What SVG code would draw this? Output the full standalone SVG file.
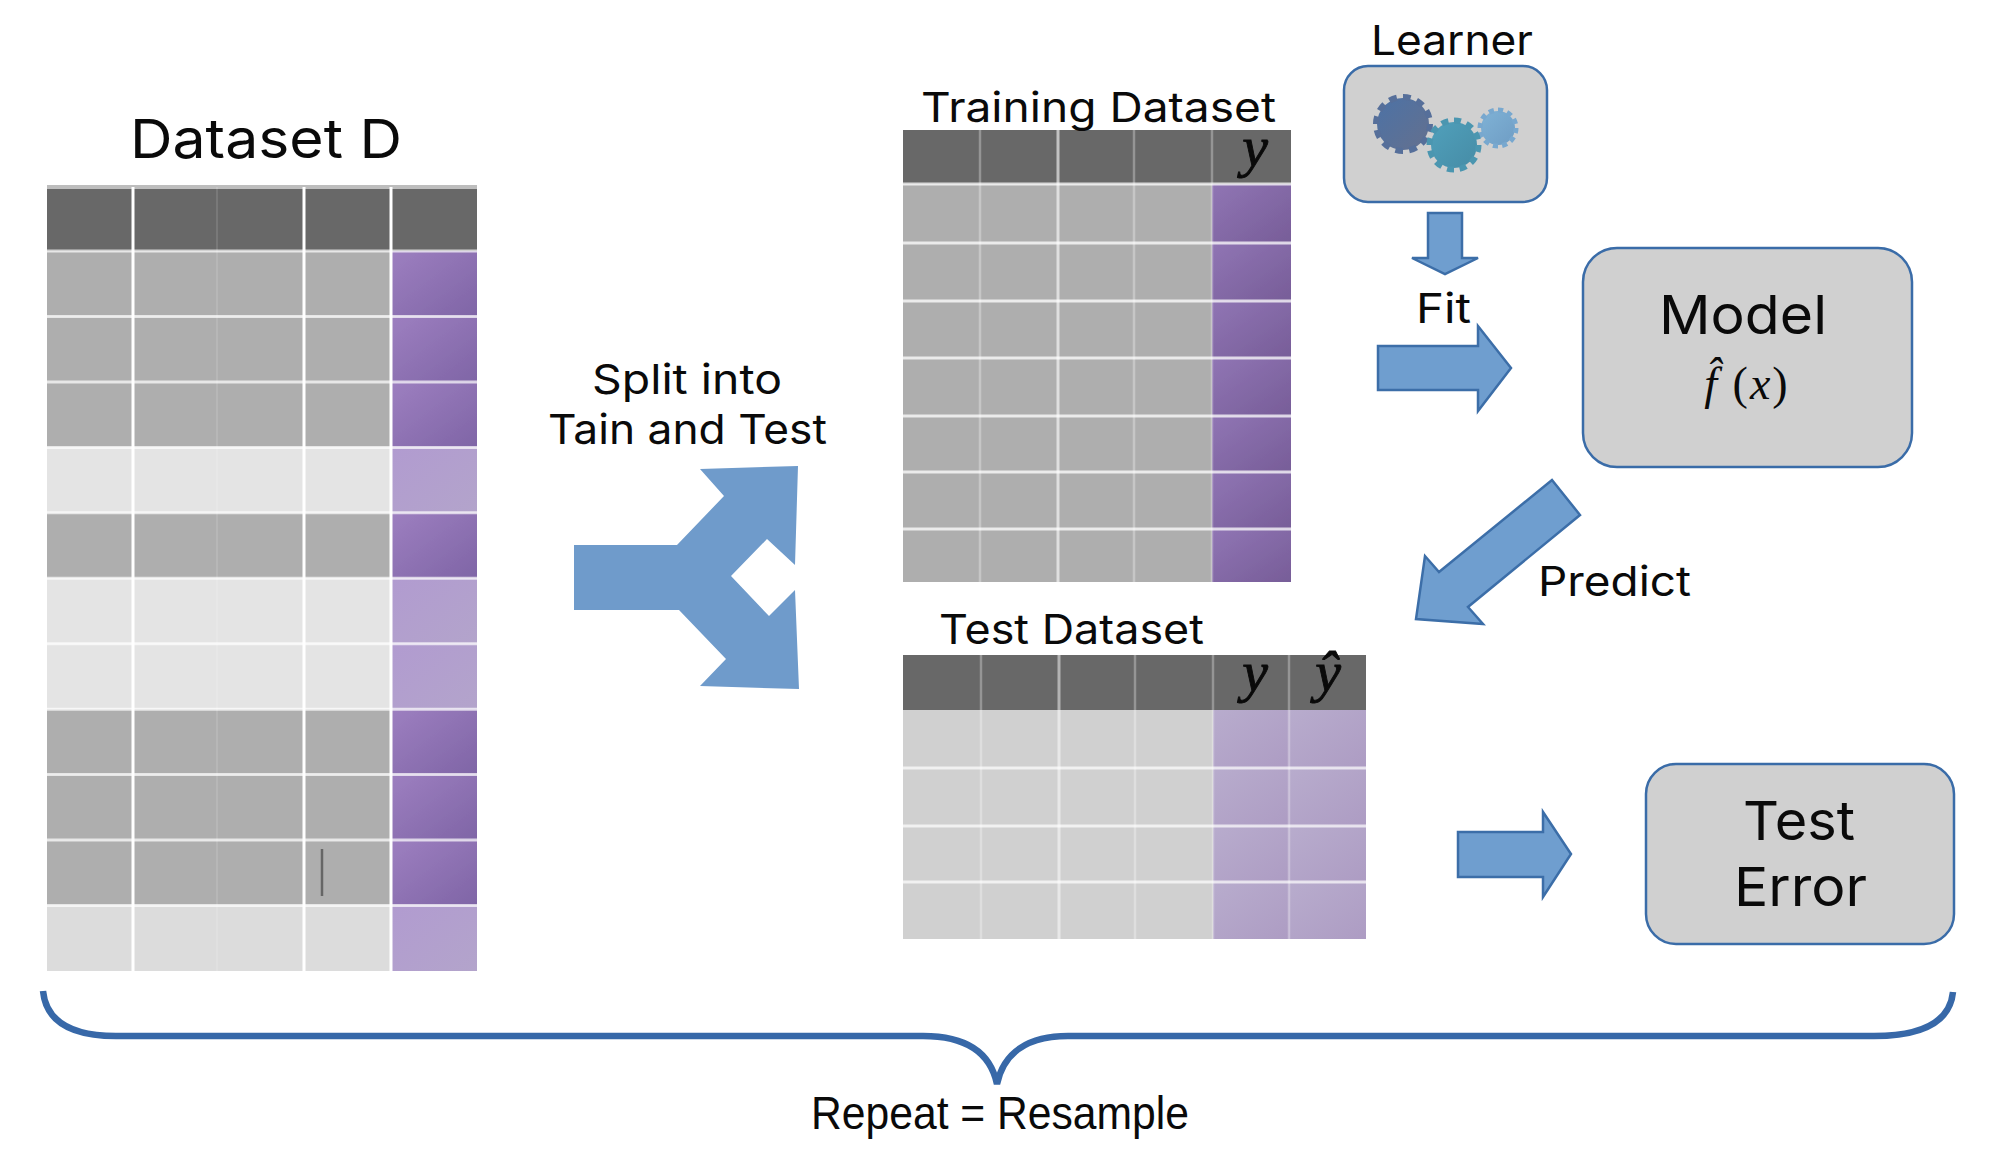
<svg xmlns="http://www.w3.org/2000/svg" width="2000" height="1173" viewBox="0 0 2000 1173">
<style>
text{font-family:"Inter","Liberation Sans",sans-serif;fill:#0a0a0a;font-weight:400}
.s{font-size:41px}.m{font-size:54px}
.r{font-family:"Liberation Sans",Arial,sans-serif;font-size:46px}
.mi{font-family:"Liberation Serif","DejaVu Serif",serif;font-style:italic;font-size:58px;stroke:#0a0a0a;stroke-width:.9}
.mf{font-family:"Liberation Serif","DejaVu Serif",serif;font-size:46px}
.h{fill:#676767}.d{fill:#aeaeae}.l{fill:#e4e4e4}.t{fill:#d0d0d0}
.p1{fill:url(#pd)}.p2{fill:url(#pl)}.p3{fill:url(#pt)}.p4{fill:url(#ps)}
.g1{stroke:#fff;stroke-width:3;fill:none}.g2{stroke:#fff;stroke-opacity:.3;stroke-width:2.5;fill:none}.g3{stroke:#fff;stroke-opacity:.12;stroke-width:2;fill:none}
.box{fill:#d0d0d0;stroke:#3a6ca8;stroke-width:2.5}
.ar{fill:#6f9ecf;stroke:#3c6ea8;stroke-width:2.5}
</style>
<defs>
<filter id="soft" x="-2%" y="-2%" width="104%" height="104%"><feGaussianBlur stdDeviation="0.7"/></filter>
<linearGradient id="pd" x1="0" y1="0" x2="1" y2="1"><stop offset="0" stop-color="#9d7fc0"/><stop offset="1" stop-color="#7f65a6"/></linearGradient>
<linearGradient id="pl" x1="0" y1="0" x2="1" y2="1"><stop offset="0" stop-color="#b19bd0"/><stop offset="1" stop-color="#b3a4cb"/></linearGradient>
<linearGradient id="pt" x1="0" y1="0" x2="1" y2="1"><stop offset="0" stop-color="#9075b4"/><stop offset="1" stop-color="#775d98"/></linearGradient>
<linearGradient id="ps" x1="0" y1="0" x2="1" y2="1"><stop offset="0" stop-color="#b8accd"/><stop offset="1" stop-color="#ad9cc3"/></linearGradient>
<linearGradient id="c1" x1="0" y1="0" x2="1" y2="1"><stop offset="0" stop-color="#4c72a6"/><stop offset="1" stop-color="#64708e"/></linearGradient>
<linearGradient id="c2" x1="0" y1="0" x2="1" y2="1"><stop offset="0" stop-color="#50a0bb"/><stop offset="1" stop-color="#468ca6"/></linearGradient>
<linearGradient id="c3" x1="0" y1="0" x2="1" y2="1"><stop offset="0" stop-color="#7fb2d6"/><stop offset="1" stop-color="#6f9dc4"/></linearGradient>
</defs>
<g transform="translate(0,1)">
<g id="dataset-d">
<text class="m" x="130" y="157" textLength="272" lengthAdjust="spacingAndGlyphs">Dataset D</text>
<g filter="url(#soft)">
<rect x="47" y="184" width="430" height="5" fill="#bdbdbd"/>
<rect class="h" x="47" y="188" width="430" height="62"/>
<rect class="d" x="47" y="250" width="344" height="65.5"/><rect class="d" x="47" y="315.5" width="344" height="65.5"/><rect class="d" x="47" y="381" width="344" height="65.4"/>
<rect class="l" x="47" y="446.4" width="344" height="65.4"/>
<rect class="d" x="47" y="511.8" width="344" height="65.5"/>
<rect class="l" x="47" y="577.3" width="344" height="65.4"/><rect class="l" x="47" y="642.7" width="344" height="65.5"/>
<rect class="d" x="47" y="708.2" width="344" height="65.4"/><rect class="d" x="47" y="773.6" width="344" height="65.5"/><rect class="d" x="47" y="839.1" width="344" height="65.4"/>
<rect x="47" y="904.5" width="344" height="65.5" fill="#dcdcdc"/>
<rect class="p1" x="391" y="250" width="86" height="65.5"/><rect class="p1" x="391" y="315.5" width="86" height="65.5"/><rect class="p1" x="391" y="381" width="86" height="65.4"/>
<rect class="p2" x="391" y="446.4" width="86" height="65.4"/>
<rect class="p1" x="391" y="511.8" width="86" height="65.5"/>
<rect class="p2" x="391" y="577.3" width="86" height="65.4"/><rect class="p2" x="391" y="642.7" width="86" height="65.5"/>
<rect class="p1" x="391" y="708.2" width="86" height="65.4"/><rect class="p1" x="391" y="773.6" width="86" height="65.5"/><rect class="p1" x="391" y="839.1" width="86" height="65.4"/>
<rect class="p2" x="391" y="904.5" width="86" height="65.5"/>
<path class="g1" d="M133,186V970M304,186V970M391,186V970"/>
<path class="g3" d="M217,186V970"/>
<path class="g1" d="M47,250H477M47,315.5H477M47,381H477M47,446.4H477M47,511.8H477M47,577.3H477M47,642.7H477M47,708.2H477M47,773.6H477M47,839.1H477M47,904.5H477" stroke-opacity=".7"/>
<path d="M322,848V895" stroke="#666" stroke-width="2.5" fill="none"/>
</g>
</g>

<g id="training-dataset">
<g filter="url(#soft)">
<rect class="h" x="903" y="129" width="388" height="54"/>
<rect class="d" x="903" y="183" width="309" height="398"/>
<rect class="p3" x="1212" y="183" width="79" height="59"/><rect class="p3" x="1212" y="242" width="79" height="58"/><rect class="p3" x="1212" y="300" width="79" height="57"/><rect class="p3" x="1212" y="357" width="79" height="58"/><rect class="p3" x="1212" y="415" width="79" height="56"/><rect class="p3" x="1212" y="471" width="79" height="57"/><rect class="p3" x="1212" y="528" width="79" height="53"/>
<path class="g2" d="M980,129V581M1134,129V581M1212,129V581"/>
<path class="g1" d="M1058,129V581" stroke-opacity=".6"/>
<path class="g1" d="M903,183H1291M903,242H1291M903,300H1291M903,357H1291M903,415H1291M903,471H1291M903,528H1291" stroke-opacity=".75"/>
</g>
<text class="s" x="921" y="121" textLength="355" lengthAdjust="spacingAndGlyphs">Training Dataset</text>
<text class="mi" x="1255" y="165" text-anchor="middle">y</text>
</g>

<g id="test-dataset">
<g filter="url(#soft)">
<rect class="h" x="903" y="654" width="463" height="55"/>
<rect class="t" x="903" y="709" width="310" height="229"/>
<rect class="p4" x="1213" y="709" width="76" height="58"/><rect class="p4" x="1213" y="767" width="76" height="58"/><rect class="p4" x="1213" y="825" width="76" height="56"/><rect class="p4" x="1213" y="881" width="76" height="57"/>
<rect class="p4" x="1289" y="709" width="77" height="58"/><rect class="p4" x="1289" y="767" width="77" height="58"/><rect class="p4" x="1289" y="825" width="77" height="56"/><rect class="p4" x="1289" y="881" width="77" height="57"/>
<path class="g2" d="M981,654V938M1135,654V938M1213,654V938M1289,654V938"/>
<path class="g1" d="M1059,654V938" stroke-opacity=".5"/>
<path class="g1" d="M903,767H1366M903,825H1366M903,881H1366" stroke-opacity=".7"/>
</g>
<text class="s" x="939" y="643" textLength="265" lengthAdjust="spacingAndGlyphs">Test Dataset</text>
<text class="mi" x="1255" y="690" text-anchor="middle">y</text>
<text class="mi" x="1328" y="690" text-anchor="middle">ŷ</text>
</g>

<g id="split-label">
<text class="s" x="592" y="393" textLength="190" lengthAdjust="spacingAndGlyphs">Split into</text>
<text class="s" x="548" y="443" textLength="279" lengthAdjust="spacingAndGlyphs">Tain and Test</text>
</g>

<g id="learner">
<text class="s" x="1371" y="54" textLength="162" lengthAdjust="spacingAndGlyphs">Learner</text>
<rect class="box" x="1344" y="65" width="203" height="136" rx="24"/>
<circle cx="1403" cy="123" r="26" fill="url(#c1)"/><circle cx="1403" cy="123" r="27" fill="none" stroke="#566f9a" stroke-width="6" pathLength="24" stroke-dasharray="1.1 .9"/>
<circle cx="1498" cy="127" r="17" fill="url(#c3)"/><circle cx="1498" cy="127" r="18" fill="none" stroke="#78a8cf" stroke-width="5" pathLength="24" stroke-dasharray="1.1 .9"/>
<circle cx="1454" cy="144" r="23" fill="url(#c2)"/><circle cx="1454" cy="144" r="24.5" fill="none" stroke="#4b96b0" stroke-width="6" pathLength="24" stroke-dasharray="1.1 .9"/>
</g>

<g id="fit-label"><text class="s" x="1416" y="322" textLength="55" lengthAdjust="spacingAndGlyphs">Fit</text></g>

<g id="model">
<rect class="box" x="1583" y="247" width="329" height="219" rx="34"/>
<text class="m" x="1659" y="333" textLength="168" lengthAdjust="spacingAndGlyphs">Model</text>
<text class="mf" x="1747" y="398" text-anchor="middle" letter-spacing="2"><tspan style="font-style:italic">f̂</tspan> (<tspan style="font-style:italic">x</tspan>)</text>
</g>

<g id="predict-label"><text class="s" x="1538" y="595" textLength="153" lengthAdjust="spacingAndGlyphs">Predict</text></g>

<g id="test-error">
<rect class="box" x="1646" y="763" width="308" height="180" rx="30"/>
<text class="m" x="1743" y="839" textLength="112" lengthAdjust="spacingAndGlyphs">Test</text>
<text class="m" x="1734" y="905" textLength="133" lengthAdjust="spacingAndGlyphs">Error</text>
</g>

<g id="connectors">
<polygon points="574,544 677,544 724,495 700,468 798,465 795,564 767,538 731,575 769,615 795,589 799,688 700,685 726,658 679,609 574,609" fill="#6f9bcb"/>
<polygon class="ar" points="1428,212 1462,212 1462,257 1478,257 1445,273 1412,257 1428,257"/>
<polygon class="ar" points="1378,345 1478,345 1478,325 1511,367 1478,410 1478,389 1378,389"/>
<polygon class="ar" points="1552,479 1580,514 1468,606 1483,623 1416,618 1425,555 1439,571"/>
<polygon class="ar" points="1458,831 1543,831 1543,811 1571,853 1543,896 1543,876 1458,876"/>
<path d="M43,990C46,1020 70,1035 116,1035L923,1035C965,1035 990,1050 997,1083C1004,1050 1030,1035 1068,1035L1874,1035C1925,1035 1950,1020 1953,991" fill="none" stroke="#3768a8" stroke-width="6.5"/>
</g>

<g id="repeat-label"><text class="r" x="811" y="1128" textLength="378" lengthAdjust="spacingAndGlyphs">Repeat = Resample</text></g>
</g>
</svg>
